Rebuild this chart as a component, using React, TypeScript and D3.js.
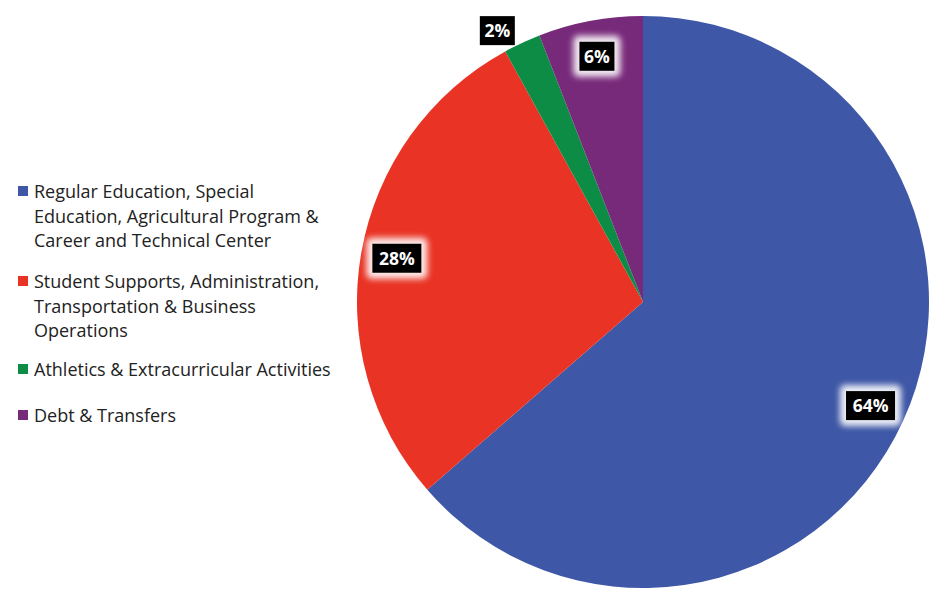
import * as d3 from 'd3';

const categories = [
  'Regular Education, Special Education, Agricultural Program & Career and Technical Center',
  'Student Supports, Administration, Transportation & Business Operations',
  'Athletics & Extracurricular Activities',
  'Debt & Transfers',
];
const legendLines = [
  ['Regular Education, Special', 'Education, Agricultural Program &', 'Career and Technical Center'],
  ['Student Supports, Administration,', 'Transportation & Business', 'Operations'],
  ['Athletics & Extracurricular Activities'],
  ['Debt & Transfers'],
];
const values = [63.6, 28.4, 2.1, 5.9];
const colors = ['#3E57A6', '#E93324', '#0C8C45', '#782A7A'];

export default function App() {
  const width = 936;
  const height = 589;
  const cx = 643;
  const cy = 302;
  const radius = 286;

  const pie = d3.pie<number>().sort(null).value((d) => d);
  const arcs = pie(values);
  const arc = d3.arc<d3.PieArcDatum<number>>().innerRadius(0).outerRadius(radius);
  const labelArc = d3.arc<d3.PieArcDatum<number>>().innerRadius(250).outerRadius(250);

  const font = '"Open Sans", Lato, sans-serif';

  // legend rows: y of first line for each entry
  const legendY = [192, 282, 370, 416];
  const lineH = 24.5;

  return (
    <div style={{ position: 'absolute', left: 0, top: 0, width, height, background: '#fff' }}>
      <svg width={width} height={height} style={{ display: 'block' }}>
        <defs>
          <filter id="glow" x="-50%" y="-50%" width="200%" height="200%">
            <feGaussianBlur stdDeviation="3" />
          </filter>
        </defs>
        <g transform={`translate(${cx},${cy})`}>
          {arcs.map((a, i) => (
            <path key={i} d={arc(a) as string} fill={colors[i]} />
          ))}
          {arcs.map((a, i) => {
            const outside = values[i] < 4;
            // small slice: label sits outside the pie, near its leading edge
            const [x, y] = outside
              ? d3.pointRadial(a.startAngle + 0.01, 308)
              : labelArc.centroid(a);
            const txt = `${Math.round(values[i])}%`;
            const w = txt.length === 2 ? 35 : 49;
            const h = 29;
            return (
              <g key={'l' + i} transform={`translate(${x},${y})`}>
                {!outside && (
                  <rect
                    x={-w / 2 - 6}
                    y={-h / 2 - 6}
                    width={w + 12}
                    height={h + 12}
                    rx={5}
                    fill="#ffffff"
                    opacity={0.9}
                    filter="url(#glow)"
                  />
                )}
                <rect x={-w / 2} y={-h / 2} width={w} height={h} fill="#000" />
                <text
                  textAnchor="middle"
                  dy="0.36em"
                  fill="#fff"
                  fontFamily={font}
                  fontWeight="bold"
                  fontSize={17.5}
                >
                  {txt}
                </text>
              </g>
            );
          })}
        </g>
        <g>
          {categories.map((c, i) => (
            <g key={c}>
              <rect x={18} y={legendY[i] - 6} width={10} height={10} fill={colors[i]} />
              <text fontFamily={font} fontSize={18} fill="#222">
                {legendLines[i].map((ln, j) => (
                  <tspan key={j} x={34} y={legendY[i] + j * lineH} dy="0.35em">
                    {ln}
                  </tspan>
                ))}
              </text>
            </g>
          ))}
        </g>
      </svg>
    </div>
  );
}
